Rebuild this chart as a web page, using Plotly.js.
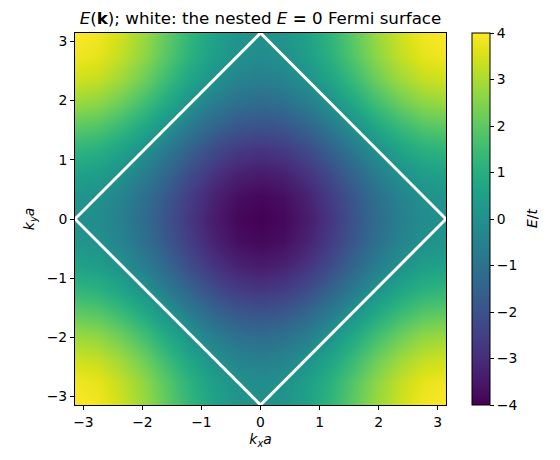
<!DOCTYPE html>
<html>
<head>
<meta charset="utf-8">
<script src="https://cdn.plot.ly/plotly-3.0.1.min.js"></script>
<style>html,body{margin:0;padding:0;background:#fff;}</style>
</head>
<body>
<div id="chart" style="width:560px;height:460px;"></div>
<script>
// Brillouin-zone grid (k·a), step pi/8
const kx = [-3.1416,-2.7489,-2.3562,-1.9635,-1.5708,-1.1781,-0.7854,-0.3927,0,0.3927,0.7854,1.1781,1.5708,1.9635,2.3562,2.7489,3.1416];
const ky = [-3.1416,-2.7489,-2.3562,-1.9635,-1.5708,-1.1781,-0.7854,-0.3927,0,0.3927,0.7854,1.1781,1.5708,1.9635,2.3562,2.7489,3.1416];
// Band energy E/t read on the grid
const energy = [
 [4,3.85,3.41,2.77,2,1.23,0.59,0.15,0,0.15,0.59,1.23,2,2.77,3.41,3.85,4],
 [3.85,3.7,3.26,2.62,1.85,1.08,0.44,0,-0.15,0,0.44,1.08,1.85,2.62,3.26,3.7,3.85],
 [3.41,3.26,2.82,2.18,1.41,0.64,0,-0.44,-0.59,-0.44,0,0.64,1.41,2.18,2.82,3.26,3.41],
 [2.77,2.62,2.18,1.54,0.77,0,-0.64,-1.08,-1.23,-1.08,-0.64,0,0.77,1.54,2.18,2.62,2.77],
 [2,1.85,1.41,0.77,0,-0.77,-1.41,-1.85,-2,-1.85,-1.41,-0.77,0,0.77,1.41,1.85,2],
 [1.23,1.08,0.64,0,-0.77,-1.54,-2.18,-2.62,-2.77,-2.62,-2.18,-1.54,-0.77,0,0.64,1.08,1.23],
 [0.59,0.44,0,-0.64,-1.41,-2.18,-2.82,-3.26,-3.41,-3.26,-2.82,-2.18,-1.41,-0.64,0,0.44,0.59],
 [0.15,0,-0.44,-1.08,-1.85,-2.62,-3.26,-3.7,-3.85,-3.7,-3.26,-2.62,-1.85,-1.08,-0.44,0,0.15],
 [0,-0.15,-0.59,-1.23,-2,-2.77,-3.41,-3.85,-4,-3.85,-3.41,-2.77,-2,-1.23,-0.59,-0.15,0],
 [0.15,0,-0.44,-1.08,-1.85,-2.62,-3.26,-3.7,-3.85,-3.7,-3.26,-2.62,-1.85,-1.08,-0.44,0,0.15],
 [0.59,0.44,0,-0.64,-1.41,-2.18,-2.82,-3.26,-3.41,-3.26,-2.82,-2.18,-1.41,-0.64,0,0.44,0.59],
 [1.23,1.08,0.64,0,-0.77,-1.54,-2.18,-2.62,-2.77,-2.62,-2.18,-1.54,-0.77,0,0.64,1.08,1.23],
 [2,1.85,1.41,0.77,0,-0.77,-1.41,-1.85,-2,-1.85,-1.41,-0.77,0,0.77,1.41,1.85,2],
 [2.77,2.62,2.18,1.54,0.77,0,-0.64,-1.08,-1.23,-1.08,-0.64,0,0.77,1.54,2.18,2.62,2.77],
 [3.41,3.26,2.82,2.18,1.41,0.64,0,-0.44,-0.59,-0.44,0,0.64,1.41,2.18,2.82,3.26,3.41],
 [3.85,3.7,3.26,2.62,1.85,1.08,0.44,0,-0.15,0,0.44,1.08,1.85,2.62,3.26,3.7,3.85],
 [4,3.85,3.41,2.77,2,1.23,0.59,0.15,0,0.15,0.59,1.23,2,2.77,3.41,3.85,4]
];
// Fermi surface (E = 0) vertices
const fsX = [-3.1416, 0, 3.1416, 0, -3.1416];
const fsY = [0, 3.1416, 0, -3.1416, 0];
const tickVals = [-3,-2,-1,0,1,2,3];
const cbTicks = [-4,-3,-2,-1,0,1,2,3,4];

const FAM = 'DejaVu Sans, sans-serif';
const font = {family: FAM, size: 13.9, color: '#000'};

const traces = [
  {
    type: 'heatmap', x: kx, y: ky, z: energy, zmin: -4, zmax: 4,
    colorscale: 'Viridis', zsmooth: 'best', hoverinfo: 'skip',
    colorbar: {
      x: 1.07, xanchor: 'left', xpad: 0, y: 0.5, yanchor: 'middle', ypad: 0,
      len: 1, lenmode: 'fraction', thickness: 18,
      outlinewidth: 1, outlinecolor: '#000',
      tickvals: cbTicks, ticks: 'outside', ticklen: 4, tickcolor: '#000',
      tickfont: font
    }
  },
  {
    type: 'scatter', mode: 'lines', x: fsX, y: fsY,
    line: {color: '#fff', width: 3}, hoverinfo: 'skip', showlegend: false
  }
];

const axisCommon = {
  range: [-3.1416, 3.1416], tickvals: tickVals, ticks: 'outside', ticklen: 4,
  tickcolor: '#000', showline: true, linecolor: '#000', linewidth: 1, mirror: true,
  showgrid: false, zeroline: false, tickfont: font
};

const layout = {
  width: 560, height: 460,
  margin: {l: 75, r: 114, t: 33, b: 55},
  paper_bgcolor: '#fff', plot_bgcolor: '#fff',
  font: font,
  showlegend: false,
  title: {
    text: '<i>E</i>(<b>k</b>); white: the nested <i>E</i> <b>=</b> 0 Fermi surface',
    font: {family: FAM, size: 16.7, color: '#000'},
    xref: 'paper', x: 0.5, xanchor: 'center', y: 0.96, yanchor: 'middle'
  },
  xaxis: Object.assign({}, axisCommon, {
    title: {text: '<i>k<sub>x</sub>a</i>', font: {family: FAM, size: 13.9, color: '#000'}, standoff: 5}
  }),
  yaxis: Object.assign({}, axisCommon, {
    title: {text: '<i>k<sub>y</sub>a</i>', font: {family: FAM, size: 13.9, color: '#000'}, standoff: 8}
  }),
  annotations: [{
    text: '<i>E</i>/<i>t</i>', xref: 'paper', yref: 'paper', x: 1.232, y: 0.5,
    xanchor: 'center', yanchor: 'middle', textangle: -90, showarrow: false,
    font: {family: FAM, size: 13.9, color: '#000'}
  }]
};

Plotly.newPlot('chart', traces, layout, {displayModeBar: false, staticPlot: true});
</script>
</body>
</html>
